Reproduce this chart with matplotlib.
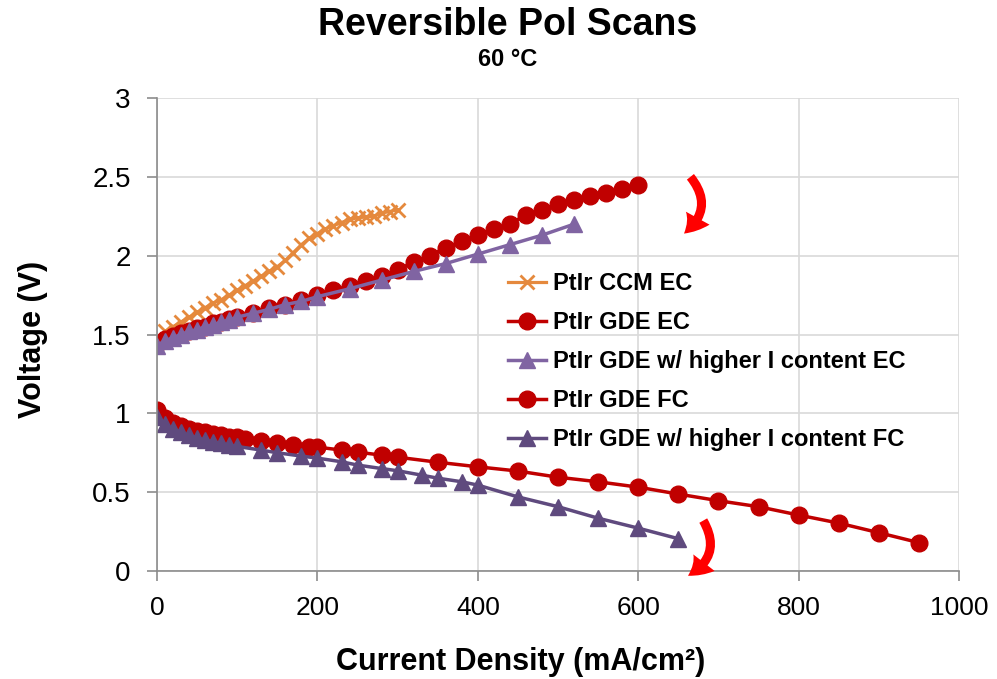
import matplotlib
matplotlib.use("Agg")
import matplotlib.pyplot as plt

plt.rcParams['font.family'] = ['Liberation Sans', 'DejaVu Sans']

# PtIr CCM, electrolysis mode
ccm_ec_j = [0, 10, 20, 30, 40, 50, 60, 70, 80, 90, 100, 110, 120, 130, 140, 150,
            160, 170, 180, 190, 200, 210, 220, 230, 240, 250, 260, 270, 280, 290, 300]
ccm_ec_v = [1.48, 1.52, 1.55, 1.58, 1.61, 1.64, 1.67, 1.70, 1.72, 1.75, 1.78, 1.81,
            1.84, 1.87, 1.90, 1.93, 1.97, 2.02, 2.07, 2.11, 2.14, 2.17, 2.19, 2.21,
            2.23, 2.24, 2.245, 2.25, 2.27, 2.28, 2.29]

# PtIr GDE, electrolysis mode
gde_ec_j = [0, 10, 20, 30, 40, 50, 60, 70, 80, 90, 100, 120, 140, 160, 180, 200,
            220, 240, 260, 280, 300, 320, 340, 360, 380, 400, 420, 440, 460, 480,
            500, 520, 540, 560, 580, 600]
gde_ec_v = [1.44, 1.47, 1.49, 1.51, 1.52, 1.54, 1.55, 1.57, 1.58, 1.60, 1.61, 1.635,
            1.665, 1.69, 1.72, 1.75, 1.78, 1.81, 1.84, 1.87, 1.91, 1.96, 2.00, 2.05,
            2.09, 2.13, 2.17, 2.20, 2.26, 2.29, 2.33, 2.35, 2.38, 2.40, 2.42, 2.45]

# PtIr GDE with higher ionomer content, electrolysis mode
hi_ec_j = [0, 10, 20, 30, 40, 50, 60, 70, 80, 90, 100, 120, 140, 160, 180, 200,
           240, 280, 320, 360, 400, 440, 480, 520]
hi_ec_v = [1.43, 1.46, 1.48, 1.50, 1.52, 1.53, 1.55, 1.56, 1.58, 1.59, 1.61, 1.635,
           1.66, 1.69, 1.71, 1.74, 1.79, 1.845, 1.90, 1.95, 2.01, 2.07, 2.13, 2.20]

# PtIr GDE, fuel cell mode
gde_fc_j = [0, 10, 20, 30, 40, 50, 60, 70, 80, 90, 100, 110, 130, 150, 170, 190,
            200, 230, 250, 280, 300, 350, 400, 450, 500, 550, 600, 650, 700, 750,
            800, 850, 900, 950]
gde_fc_v = [1.02, 0.97, 0.94, 0.92, 0.90, 0.89, 0.88, 0.87, 0.86, 0.85, 0.85, 0.84,
            0.826, 0.813, 0.80, 0.786, 0.786, 0.767, 0.754, 0.735, 0.722, 0.69,
            0.661, 0.634, 0.595, 0.566, 0.532, 0.488, 0.446, 0.408, 0.355, 0.304,
            0.243, 0.18]

# PtIr GDE with higher ionomer content, fuel cell mode
hi_fc_j = [0, 10, 20, 30, 40, 50, 60, 70, 80, 90, 100, 130, 150, 180, 200, 230,
           250, 280, 300, 330, 350, 380, 400, 450, 500, 550, 600, 650]
hi_fc_v = [0.98, 0.93, 0.90, 0.88, 0.86, 0.845, 0.83, 0.82, 0.81, 0.80, 0.79, 0.767,
           0.75, 0.729, 0.716, 0.693, 0.672, 0.65, 0.636, 0.608, 0.589, 0.566, 0.545,
           0.47, 0.408, 0.335, 0.272, 0.205]

x_ticks = [0, 200, 400, 600, 800, 1000]
y_ticks = [0, 0.5, 1, 1.5, 2, 2.5, 3]

orange = '#E5893D'
red = '#C00000'
purple_ec = '#8064A2'
purple_fc = '#5F4A7E'

fig = plt.figure(figsize=(9.97, 6.79), dpi=100)
ax = fig.add_axes([0.1575, 0.159, 0.8045, 0.6967])

ax.plot(ccm_ec_j, ccm_ec_v, color=orange, lw=2.3, marker='x', ms=10, mew=2,
        label='PtIr CCM EC')
ax.plot(gde_ec_j, gde_ec_v, color=red, lw=2.5, marker='o', ms=12,
        label='PtIr GDE EC')
ax.plot(hi_ec_j, hi_ec_v, color=purple_ec, lw=2.5, marker='^', ms=11,
        label='PtIr GDE w/ higher I content EC')
ax.plot(gde_fc_j, gde_fc_v, color=red, lw=2.5, marker='o', ms=12,
        label='PtIr GDE FC')
ax.plot(hi_fc_j, hi_fc_v, color=purple_fc, lw=2.5, marker='^', ms=11,
        label='PtIr GDE w/ higher I content FC')

# curved arrows showing scan direction
arrow = dict(arrowstyle='simple,head_length=0.55,head_width=0.72,tail_width=0.24',
             fc='#FF0000', ec='none', mutation_scale=27, shrinkA=0, shrinkB=0,
             connectionstyle='arc3,rad=-0.5')
ax.annotate('', xy=(657, 2.14), xytext=(665, 2.50), arrowprops=arrow,
            annotation_clip=False)
ax.annotate('', xy=(662, -0.03), xytext=(681, 0.32), arrowprops=arrow,
            annotation_clip=False)

ax.set_xlim(0, 1000)
ax.set_ylim(0, 3)
ax.set_xticks(x_ticks)
ax.set_yticks(y_ticks)
ax.set_yticklabels(['0', '0.5', '1', '1.5', '2', '2.5', '3'])
ax.grid(True, color='#D9D9D9', lw=1.2)
ax.set_axisbelow(True)
for side in ['top', 'right']:
    ax.spines[side].set_visible(False)
for side in ['left', 'bottom']:
    ax.spines[side].set_color('#8C8C8C')
    ax.spines[side].set_linewidth(1.2)
ax.tick_params(axis='both', direction='out', color='#8C8C8C', width=1.2,
               length=7)
ax.tick_params(axis='y', pad=12, labelsize=20)
ax.tick_params(axis='x', pad=11, labelsize=19)

fig.text(0.509, 0.963, 'Reversible Pol Scans', ha='center', va='center',
         fontsize=27, fontweight='bold')
fig.text(0.509, 0.912, '60 °C', ha='center', va='center', fontsize=17,
         fontweight='bold')
fig.text(0.522, 0.025, 'Current Density (mA/cm²)', ha='center', va='center',
         fontsize=22, fontweight='bold')
fig.text(0.033, 0.5, 'Voltage (V)', ha='center', va='center', rotation=90,
         fontsize=22, fontweight='bold')

ax.legend(loc='upper left', bbox_to_anchor=(0.5, 0.613), bbox_transform=fig.transFigure,
          frameon=False, prop={'size': 17, 'weight': 'bold'}, handlelength=1.6,
          handletextpad=0.3, labelspacing=0.68, borderaxespad=0)

fig.savefig('out.png', dpi=100)
